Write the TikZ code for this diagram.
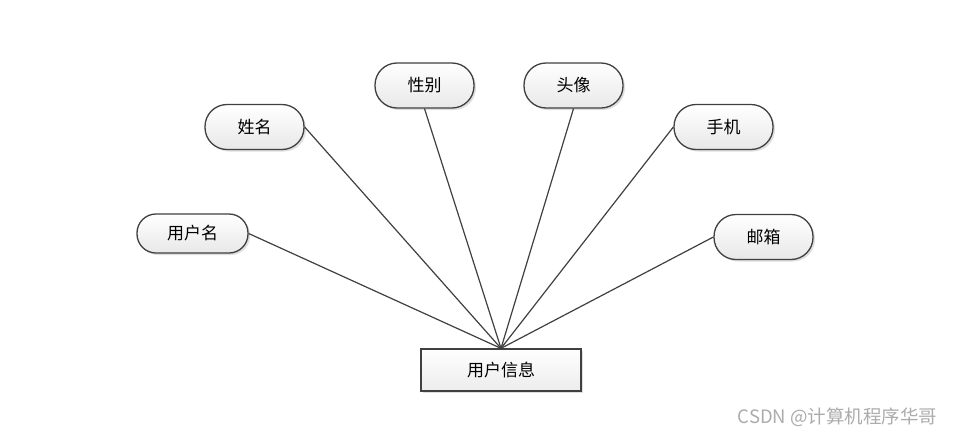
\documentclass[tikz,border=0pt]{standalone}
\usepackage{fontspec}
\newfontfamily\cjk{Noto Sans CJK SC}
\usetikzlibrary{shadows}
\definecolor{edgegray}{HTML}{404040}
\tikzset{
  attr/.style={draw=edgegray, line width=1.3pt, rounded corners=11.5pt,
    top color=white, bottom color=gray!18, drop shadow={opacity=0.25, shadow xshift=2pt, shadow yshift=-2pt},
    minimum width=99pt, minimum height=45pt, font=\cjk\fontsize{17}{17}\selectfont, inner sep=0pt},
  entity/.style={draw=edgegray, line width=1.3pt,
    top color=white, bottom color=gray!15, drop shadow={opacity=0.25, shadow xshift=2pt, shadow yshift=-2pt},
    minimum width=160pt, minimum height=42pt, font=\cjk\fontsize{17}{17}\selectfont, inner sep=0pt},
  link/.style={draw=edgegray, line width=1.2pt}
}
\begin{document}
\begin{tikzpicture}[x=1pt, y=-1pt]
    \useasboundingbox[fill=white] (0,0) rectangle (954,437);
    % Entity
    \node[entity] (user) at (501, 370) {用户信息};
    % Attributes
    \node[attr, minimum width=111pt, minimum height=39pt, rounded corners=19pt] (uname) at (192.5, 233.5) {用户名};
    \node[attr, rounded corners=22pt] (name) at (254.5, 127) {姓名};
    \node[attr, rounded corners=22pt] (sex) at (424.5, 85.5) {性别};
    \node[attr, rounded corners=22pt] (avatar) at (573.5, 85.5) {头像};
    \node[attr, rounded corners=22pt] (phone) at (723.5, 127) {手机};
    \node[attr, rounded corners=22pt] (mail) at (763.5, 237) {邮箱};
    % Connectors
    \draw[link] (uname.east) -- (user.north);
    \draw[link] (name.east) -- (user.north);
    \draw[link] (sex.south) -- (user.north);
    \draw[link] (avatar.south) -- (user.north);
    \draw[link] (phone.west) -- (user.north);
    \draw[link] (mail.west) -- (user.north);
    % Watermark
    \node[text=gray!65, font=\cjk\fontsize{18.5}{18.5}\selectfont, anchor=east] (mark) at (941, 417) {CSDN @计算机程序华哥};
\end{tikzpicture}
\end{document}
